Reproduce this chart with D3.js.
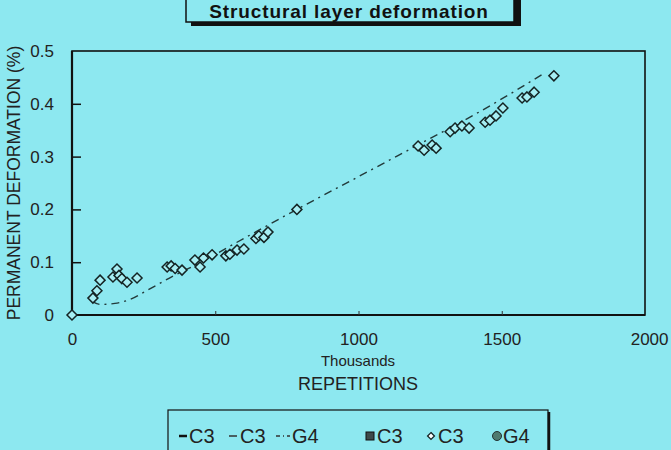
<!DOCTYPE html>
<html><head><meta charset="utf-8">
<script src="https://cdn.jsdelivr.net/npm/d3@7"></script>
<style>html,body{margin:0;padding:0;background:#8de8f0;overflow:hidden}svg{display:block}</style>
</head><body>
<script>
const title = "Structural layer deformation";
const xTicks = [0, 500, 1000, 1500, 2000];
const yTicks = [0, 0.1, 0.2, 0.3, 0.4, 0.5];
const yTickLabels = ["0", "0.1", "0.2", "0.3", "0.4", "0.5"];
// C3 measured points (open diamonds): repetitions (thousands), deformation (%)
const c3X = [0, 73, 87, 98, 143, 157, 164, 174, 192, 227, 332, 346, 360, 384, 429, 447, 459, 489, 537, 551, 576, 600, 642, 652, 670, 684, 785, 1208, 1229, 1257, 1271, 1320, 1337, 1361, 1386, 1442, 1459, 1480, 1504, 1571, 1588, 1613, 1682];
const c3Y = [0, 0.032, 0.046, 0.066, 0.072, 0.087, 0.075, 0.069, 0.062, 0.07, 0.091, 0.093, 0.088, 0.085, 0.104, 0.091, 0.108, 0.114, 0.112, 0.115, 0.123, 0.125, 0.145, 0.15, 0.147, 0.157, 0.2, 0.32, 0.312, 0.322, 0.316, 0.347, 0.354, 0.358, 0.354, 0.365, 0.369, 0.377, 0.392, 0.411, 0.413, 0.422, 0.453];
// G4 fitted curve (dashed)
const g4X = [70, 100, 150, 200, 260, 340, 450, 600, 785, 1000, 1200, 1400, 1640];
const g4Y = [0.026, 0.02, 0.022, 0.029, 0.046, 0.07, 0.1, 0.145, 0.2, 0.262, 0.32, 0.378, 0.455];
const legendItems = ["C3", "C3", "G4", "C3", "C3", "G4"];

const W = 671, H = 450;
const svg = d3.select("body").append("svg").attr("width", W).attr("height", H);
const pL = 72, pR = 645, pT = 51, pB = 315;
const x = d3.scaleLinear().domain([0, 2000]).range([pL, pR]);
const y = d3.scaleLinear().domain([0, 0.5]).range([pB, pT]);
const font = "'Liberation Sans', Arial, sans-serif";
const ink = "#111";

// title box with shadow
svg.append("rect").attr("x", 191).attr("y", -5).attr("width", 330).attr("height", 31).attr("fill", ink);
svg.append("rect").attr("x", 186).attr("y", -5).attr("width", 328).attr("height", 27).attr("fill", "#8de8f0").attr("stroke", ink).attr("stroke-width", 1.5);
svg.append("text").attr("x", 349).attr("y", 18).attr("text-anchor", "middle").attr("letter-spacing", 0.9)
  .attr("font-family", font).attr("font-size", 19).attr("font-weight", "bold").attr("fill", ink).text(title);

// frame
svg.append("rect").attr("x", pL).attr("y", pT).attr("width", pR - pL).attr("height", pB - pT)
  .attr("fill", "none").attr("stroke", ink).attr("stroke-width", 1.6);
svg.append("line").attr("x1", pL).attr("x2", pR).attr("y1", pB).attr("y2", pB).attr("stroke", ink).attr("stroke-width", 2.2);
svg.append("line").attr("x1", pL).attr("x2", pL).attr("y1", pT).attr("y2", pB).attr("stroke", ink).attr("stroke-width", 2.2);

// y axis
const yAxis = d3.axisLeft(y).tickValues(yTicks).tickSize(-9).tickPadding(18).tickFormat((d, i) => yTickLabels[i]);
const gy = svg.append("g").attr("transform", `translate(${pL},0)`).call(yAxis);
gy.select(".domain").remove();
gy.selectAll(".tick line").attr("stroke", ink).attr("stroke-width", 1.5).filter(d => d === 0 || d === 0.5).remove();
gy.selectAll("text").attr("font-family", font).attr("font-size", 17).attr("fill", "#222");

// x axis
const xAxis = d3.axisBottom(x).tickValues(xTicks).tickSize(-4).tickPadding(18).tickFormat(d3.format("d"));
const gx = svg.append("g").attr("transform", `translate(0,${pB})`).call(xAxis);
gx.select(".domain").remove();
gx.selectAll(".tick line").attr("stroke", "#333").attr("stroke-width", 1).filter(d => d === 0 || d === 2000).remove();
gx.selectAll("text").attr("font-family", font).attr("font-size", 17).attr("fill", "#222");
gx.selectAll(".tick").filter(d => d === 2000).select("text").attr("text-anchor", "end").attr("dx", 23);

svg.append("text").attr("x", 358).attr("y", 366).attr("text-anchor", "middle").attr("font-family", font)
  .attr("font-size", 15).attr("fill", "#222").text("Thousands");
svg.append("text").attr("x", 358).attr("y", 390).attr("text-anchor", "middle").attr("font-family", font)
  .attr("font-size", 18).attr("fill", "#222").text("REPETITIONS");
svg.append("text").attr("transform", "translate(20,183) rotate(-90)").attr("text-anchor", "middle").attr("font-family", font)
  .attr("font-size", 17.5).attr("fill", "#222").text("PERMANENT DEFORMATION (%)");

// G4 curve
const line = d3.line().x(d => x(d[0])).y(d => y(d[1])).curve(d3.curveMonotoneX);
svg.append("path").datum(d3.zip(g4X, g4Y)).attr("d", line).attr("fill", "none")
  .attr("stroke", "#223a3a").attr("stroke-width", 1.4).attr("stroke-dasharray", "8,5,2,5");

// C3 diamonds
const diamond = d3.symbol().type(d3.symbolDiamond2).size(64);
svg.append("g").selectAll("path").data(d3.zip(c3X, c3Y)).join("path")
  .attr("d", diamond).attr("transform", d => `translate(${x(d[0])},${y(d[1])})`)
  .attr("fill", "#a6eef3").attr("stroke", "#142424").attr("stroke-width", 1.5);

// legend
svg.append("rect").attr("x", 168).attr("y", 410).attr("width", 380).attr("height", 60)
  .attr("fill", "none").attr("stroke", ink).attr("stroke-width", 1.2);
svg.append("line").attr("x1", 549).attr("x2", 549).attr("y1", 412).attr("y2", 450).attr("stroke", ink).attr("stroke-width", 2.5);
const ly = 436;
const lg = svg.append("g");
const textX = [189, 240, 292, 377, 438, 503];
lg.append("line").attr("x1", 179).attr("x2", 187).attr("y1", ly).attr("y2", ly).attr("stroke", ink).attr("stroke-width", 2.5);
lg.append("line").attr("x1", 229).attr("x2", 237).attr("y1", ly).attr("y2", ly).attr("stroke", "#333").attr("stroke-width", 1.5);
lg.append("line").attr("x1", 276).attr("x2", 290).attr("y1", ly).attr("y2", ly).attr("stroke", "#333").attr("stroke-width", 1.5).attr("stroke-dasharray", "4,3,1,3");
lg.append("rect").attr("x", 366).attr("y", ly - 4).attr("width", 8).attr("height", 8).attr("fill", "#3d4a4a").attr("stroke", "#111");
lg.append("path").attr("d", d3.symbol().type(d3.symbolDiamond2).size(30)).attr("transform", `translate(431,${ly})`)
  .attr("fill", "#fff").attr("stroke", "#142424").attr("stroke-width", 1.3);
lg.append("circle").attr("cx", 497).attr("cy", ly).attr("r", 4.5).attr("fill", "#4f7a70").attr("stroke", "#233");
lg.selectAll("text.l").data(legendItems).join("text").attr("class", "l")
  .attr("x", (d, i) => textX[i]).attr("y", ly + 7).attr("font-family", font).attr("font-size", 20).attr("fill", "#222").text(d => d);
</script>
</body></html>
